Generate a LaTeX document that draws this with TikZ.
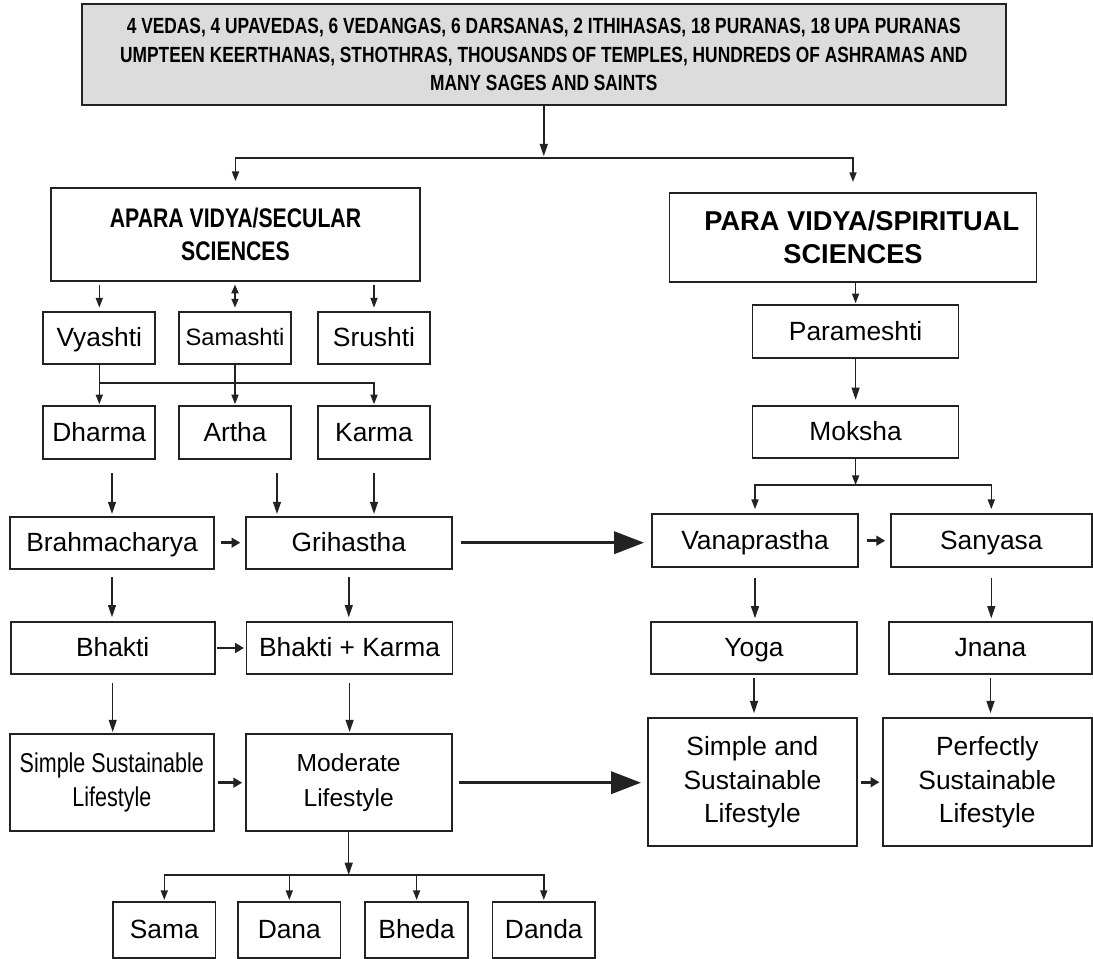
\documentclass[tikz,border=0pt]{standalone}
\usepackage{fontspec}
\setmainfont{Liberation Sans}
\newfontfamily\condfont[FakeStretch=0.79]{Liberation Sans}
\usetikzlibrary{arrows.meta,calc}
\definecolor{ink}{HTML}{222222}
\definecolor{headfill}{HTML}{DCDCDC}
\tikzset{
  box/.style={draw=ink, line width=1pt, align=center, inner sep=2pt, font=\fontsize{15}{19}\selectfont},
  one/.style={text height=11pt, text depth=1pt},
  wh/.style 2 args={minimum width=#1*0.02cm, minimum height=#2*0.02cm},
  arr/.style={-{Triangle[length=7pt,width=4.5pt]}, line width=0.9pt, draw=ink},
  arrs/.style={-{Triangle[length=5.5pt,width=4pt]}, line width=0.9pt, draw=ink},
  darrs/.style={{Triangle[length=5pt,width=4pt]}-{Triangle[length=5pt,width=4pt]}, line width=0.9pt, draw=ink},
  harr/.style={-{Triangle[length=5pt,width=5.5pt]}, line width=1.7pt, draw=ink},
  bigarr/.style={-{Triangle[length=17pt,width=12.5pt]}, line width=2pt, draw=ink}
}
\begin{document}
\begin{tikzpicture}[x=0.02cm,y=-0.02cm]
\useasboundingbox (0,0) rectangle (1093,959);

\node[box, wh={924}{101}, fill=headfill, font=\condfont\bfseries\fontsize{12.5}{16.2}\selectfont] (veda) at (543.8,54.5)
  {4 VEDAS, 4 UPAVEDAS, 6 VEDANGAS, 6 DARSANAS, 2 ITHIHASAS, 18 PURANAS, 18 UPA PURANAS\\
   UMPTEEN KEERTHANAS, STHOTHRAS, THOUSANDS OF TEMPLES, HUNDREDS OF ASHRAMAS AND\\
   MANY SAGES AND SAINTS};
\node[box, wh={369}{93}, font=\condfont\bfseries\fontsize{15.3}{18.7}\selectfont] (apara) at (235.5,234.5) {APARA VIDYA/SECULAR\\SCIENCES};
\node[box, wh={367}{89}, font=\bfseries\fontsize{15.5}{19}\selectfont] (para) at (853,237.5) {\hspace{10pt}PARA VIDYA/SPIRITUAL\\SCIENCES};

\node[box, one, wh={112}{52}] (vyashti) at (99.3,338) {Vyashti};
\node[box, wh={112}{52}, font=\fontsize{13.5}{16}\selectfont, text height=10pt, text depth=1pt] (samashti) at (235,338) {Samashti};
\node[box, one, wh={112}{52}] (srushti) at (374,338) {Srushti};
\foreach \n/\x/\t in {dharma/99.3/Dharma, artha/235/Artha, karma/374/Karma}
  \node[box, one, wh={112}{53}] (\n) at (\x,432.5) {\t};

\node[box, one, wh={206}{52.7}] (parameshti) at (855.6,331.3) {Parameshti};
\node[box, one, wh={206}{52}] (moksha) at (855.6,432) {Moksha};

\node[box, one, wh={204}{52}] (brahma) at (112,542.7) {Brahmacharya};
\node[box, one, wh={206}{52}] (grihastha) at (348.8,542.7) {Grihastha};
\node[box, one, wh={206}{53}] (vana) at (755,540.7) {Vanaprastha};
\node[box, one, wh={201}{53}] (sanyasa) at (991.3,540.7) {Sanyasa};

\node[box, one, wh={204}{52.6}] (bhakti) at (112.7,648) {Bhakti};
\node[box, one, wh={206}{52.6}] (bk) at (349.6,648) {Bhakti + Karma};
\node[box, one, wh={206}{52.6}] (yoga) at (754,648) {Yoga};
\node[box, one, wh={203}{52.6}] (jnana) at (990.5,648) {Jnana};

\node[box, wh={204}{97}, font=\condfont\fontsize{15.5}{19.5}\selectfont] (ssl) at (111.8,782.7) {Simple Sustainable\\Lifestyle};
\node[box, wh={206}{97}, font=\fontsize{14}{19.5}\selectfont] (moderate) at (348.7,782.7) {Moderate\\Lifestyle};
\node[box, wh={209}{128}] (simple) at (752.4,782.2) {Simple and\\Sustainable\\Lifestyle};
\node[box, wh={209}{128}] (perfect) at (987.3,782.2) {Perfectly\\Sustainable\\Lifestyle};

\foreach \n/\x/\t in {sama/164.3/Sama, dana/289.3/Dana, bheda/416.6/Bheda, danda/543.8/Danda}
  \node[box, one, wh={102.5}{56}] (\n) at (\x,929.7) {\t};

\coordinate (vsplit) at (543.8,158);
\draw[arr, shorten >=1pt] (veda) -- (vsplit);
\draw[arrs, shorten >=3.4pt] (vsplit) -| (apara);
\draw[arrs, shorten >=5.8pt] (vsplit) -| (para);

\draw[arrs, shorten <=1.5pt, shorten >=2pt] (apara.south -| vyashti) -- (vyashti);
\draw[darrs, shorten <=1.5pt, shorten >=2pt] (apara.south -| samashti) -- (samashti);
\draw[arrs, shorten <=1.5pt, shorten >=2pt] (apara.south -| srushti) -- (srushti);

\coordinate (vj) at (99.3,383);
\draw[arrs, shorten >=0.5pt] (vyashti) -- (vj) -- (dharma);
\draw[arrs, shorten >=0.5pt] (vj) -| (karma);
\draw[arrs, shorten >=0.5pt] (samashti) -- (artha);

\coordinate (ak) at (277,0);
\draw[arr, shorten <=7.5pt, shorten >=1pt] (dharma.south -| brahma) -- (brahma);
\draw[arr, shorten <=7.5pt, shorten >=1pt] (artha.south -| ak) -- (grihastha.north -| ak);
\draw[arr, shorten <=7.5pt, shorten >=1pt] (karma.south) -- (karma.south |- grihastha.north);

\draw[arrs, shorten >=0.5pt] (para.south -| parameshti) -- (parameshti);
\draw[arr, shorten >=3pt] (parameshti) -- (moksha);
\coordinate (mj) at (855.6,485);
\draw[arrs] (moksha) -- (mj);
\draw[arrs, shorten >=2.4pt] (mj) -| (vana);
\draw[arrs, shorten >=2.4pt] (mj) -| (sanyasa);

\draw[harr, shorten <=3.4pt, shorten >=2.6pt] (brahma) -- (grihastha);
\draw[bigarr, shorten <=5pt, shorten >=4pt] (grihastha.east) -- (grihastha.east -| vana.west);
\draw[harr, shorten <=4.5pt, shorten >=2.7pt] (vana) -- (sanyasa);

\draw[arr, shorten <=4.5pt, shorten >=2pt] (brahma.south) -- (brahma.south |- bhakti.north);
\draw[arr, shorten <=4.5pt, shorten >=2pt] (grihastha.south) -- (grihastha.south |- bk.north);
\draw[arr, shorten <=5.5pt, shorten >=1.4pt] (vana.south) -- (vana.south |- yoga.north);
\draw[arr, shorten <=5.5pt, shorten >=1.4pt] (sanyasa.south) -- (sanyasa.south |- jnana.north);
\draw[harr, shorten <=1pt, shorten >=1pt] (bhakti) -- (bk);

\draw[arr, shorten <=4.7pt, shorten >=0.7pt] (bhakti.south) -- (bhakti.south |- ssl.north);
\draw[arr, shorten <=4.7pt, shorten >=0.7pt] (bk.south) -- (bk.south |- moderate.north);
\draw[arr, shorten <=1.7pt, shorten >=2.3pt] (yoga.south) -- (yoga.south |- simple.north);
\draw[arr, shorten <=1.7pt, shorten >=2.3pt] (jnana.south) -- (jnana.south |- perfect.north);

\draw[harr, shorten <=1.7pt, shorten >=1.5pt] (ssl) -- (moderate);
\draw[bigarr, shorten <=3.6pt, shorten >=3.4pt] (moderate.east) -- (moderate.east -| simple.west);
\draw[harr, shorten <=2pt, shorten >=1.4pt] (simple) -- (perfect);

\coordinate (dj) at (348.7,875);
\draw[arr] (moderate) -- (dj);
\foreach \n in {sama,dana,bheda,danda}
  \draw[arrs, shorten >=0.5pt] (dj) -| (\n);
\end{tikzpicture}
\end{document}
